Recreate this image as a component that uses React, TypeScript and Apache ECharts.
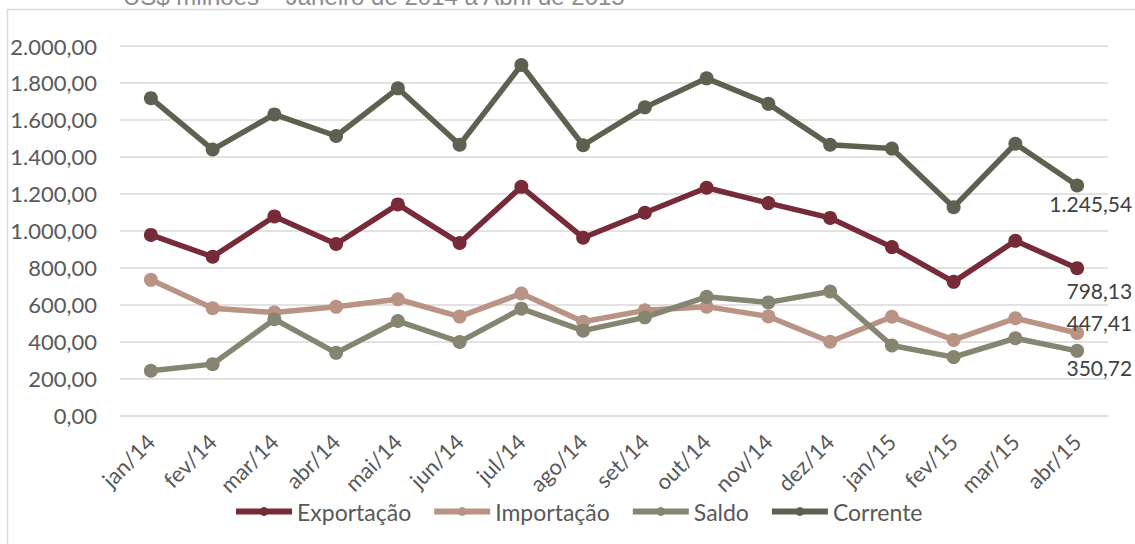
import React, { useEffect, useRef } from "react";
import * as echarts from "echarts";

const categories = ["jan/14","fev/14","mar/14","abr/14","mai/14","jun/14","jul/14","ago/14","set/14","out/14","nov/14","dez/14","jan/15","fev/15","mar/15","abr/15"];
const exportacao = [978, 860, 1078, 929, 1143, 934, 1238, 963, 1098, 1233, 1150, 1070, 912, 724, 946, 798.13];
const importacao = [735, 581, 558, 589, 630, 536, 661, 508, 570, 590, 537, 400, 535, 410, 527, 447.41];
const saldo = [243, 279, 522, 340, 512, 399, 579, 460, 532, 643, 613, 672, 380, 317, 419, 350.72];
const corrente = [1718, 1440, 1630, 1513, 1771, 1466, 1897, 1463, 1668, 1825, 1687, 1466, 1445, 1128, 1471, 1245.54];
const titleText = "US$ milhões – Janeiro de 2014 a Abril de 2015";

const fmt = (v: number) => {
  const fixed = v.toFixed(2);
  const [i, d] = fixed.split(".");
  const withDots = i.replace(/\B(?=(\d{3})+(?!\d))/g, ".");
  return withDots + "," + d;
};

const FONT = "Lato, 'Open Sans', sans-serif";

export default function App() {
  const ref = useRef<HTMLDivElement>(null);
  useEffect(() => {
    if (!ref.current) return;
    const chart = echarts.init(ref.current, null, { renderer: "svg" });
    const mk = (name: string, data: number[], color: string, dy: number) => ({
      name,
      type: "line",
      data: data.map((v, i) =>
        i === data.length - 1
          ? {
              value: v,
              label: {
                show: true,
                position: [62, 7 + dy],
                align: "right",
                verticalAlign: "middle",
                formatter: (p: any) => fmt(p.value),
                color: "#404040",
                fontSize: 21,
                fontFamily: FONT,
              },
            }
          : v
      ),
      symbol: "circle",
      symbolSize: 14,
      lineStyle: { color, width: 5.5 },
      itemStyle: { color },
      emphasis: { disabled: true },
    });
    chart.setOption({
      animation: false,
      backgroundColor: "#ffffff",
      grid: { left: 120, right: 27, top: 46, bottom: 128.3 },
      graphic: [
        {
          type: "rect",
          shape: { x: 7.5, y: 9.5, width: 1300, height: 700 },
          style: { fill: "none", stroke: "#d9d9d9", lineWidth: 1.5 },
          silent: true,
        },
        {
          type: "text",
          x: 123,
          y: 8,
          style: {
            text: titleText,
            fill: "#8c8c8c",
            font: "24px 'Liberation Sans', Arial, sans-serif",
            verticalAlign: "bottom",
          },
        },
      ],
      legend: {
        bottom: 16,
        left: 228,
        itemWidth: 56,
        itemHeight: 11,
        itemGap: 20,
        lineStyle: { width: 6 },
        textStyle: { color: "#595959", fontSize: 23, fontFamily: FONT },
        data: ["Exportação", "Importação", "Saldo", "Corrente"],
      },
      xAxis: {
        type: "category",
        data: categories,
        boundaryGap: true,
        axisLine: { lineStyle: { color: "#d9d9d9", width: 1.5 } },
        axisTick: { show: false },
        axisLabel: { rotate: 45, margin: 22, color: "#595959", fontSize: 22, fontFamily: FONT, interval: 0 },
      },
      yAxis: {
        type: "value",
        min: 0,
        max: 2000,
        interval: 200,
        axisLine: { show: false },
        axisTick: { show: false },
        splitLine: { lineStyle: { color: "#d9d9d9", width: 1.5 } },
        axisLabel: { margin: 23, color: "#595959", fontSize: 22, fontFamily: FONT, formatter: (v: number) => fmt(v) },
      },
      series: [
        mk("Exportação", exportacao, "#772b38", 22),
        mk("Importação", importacao, "#b99384", -10),
        mk("Saldo", saldo, "#868571", 17),
        mk("Corrente", corrente, "#5f6150", 18),
      ],
    });
    return () => chart.dispose();
  }, []);
  return <div ref={ref} style={{ position: "absolute", left: 0, top: 0, width: 1135, height: 544 }} />;
}
